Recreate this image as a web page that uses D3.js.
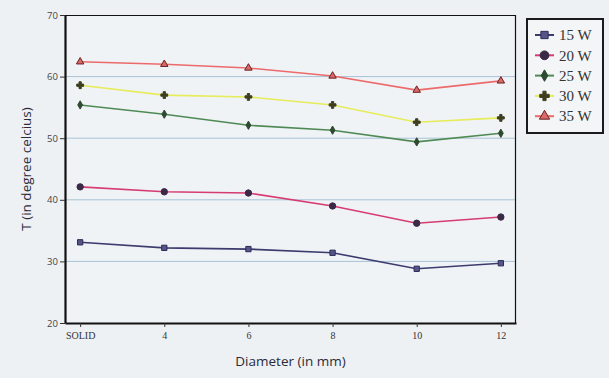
<!DOCTYPE html>
<html>
<head>
<meta charset="utf-8">
<script src="https://cdn.jsdelivr.net/npm/d3@7"></script>
<style>
  body { margin: 0; background: #eef1f4; }
  svg { display: block; }
</style>
</head>
<body>
<div id="chart"></div>
<script>
// Chart data
var diameters = ["SOLID", "4", "6", "8", "10", "12"];
var seriesNames = ["15 W", "20 W", "25 W", "30 W", "35 W"];
var w15 = [33.1, 32.2, 32.0, 31.4, 28.8, 29.7];
var w20 = [42.1, 41.3, 41.1, 39.0, 36.2, 37.2];
var w25 = [55.4, 53.9, 52.1, 51.3, 49.4, 50.8];
var w30 = [58.6, 57.0, 56.7, 55.4, 52.6, 53.3];
var w35 = [62.4, 62.0, 61.4, 60.1, 57.8, 59.3];
var yTicks = [20, 30, 40, 50, 60, 70];

var svgWidth = 609;
var svgHeight = 378;

var margin = { top: 15, right: 93, bottom: 55, left: 65 };
var width = svgWidth - margin.left - margin.right;
var height = svgHeight - margin.top - margin.bottom;

var svg = d3.select("#chart")
  .append("svg")
  .attr("width", svgWidth)
  .attr("height", svgHeight);

svg.append("rect")
  .attr("width", svgWidth)
  .attr("height", svgHeight)
  .attr("fill", "#eef1f4");

var chartGroup = svg.append("g")
  .attr("transform", `translate(${margin.left}, ${margin.top})`);

// series styling
var styles = [
  { line: "#3b3b6e", marker: "#2b2b55", fill: "#55558a", shape: d3.symbolSquare, size: 28 },
  { line: "#d63c72", marker: "#3a2a48", fill: "#3a2a48", shape: d3.symbolCircle, size: 32 },
  { line: "#4f8a55", marker: "#2e4a30", fill: "#2e4a30", shape: d3.symbolDiamond, size: 20 },
  { line: "#e6ec5a", marker: "#3e3e1e", fill: "#3e3e1e", shape: d3.symbolCross, size: 26 },
  { line: "#ec6a6a", marker: "#6a2020", fill: "#d86a6a", shape: d3.symbolTriangle, size: 24 }
];
var seriesValues = [w15, w20, w25, w30, w35];

// scales
var xScale = d3.scalePoint()
  .domain(diameters)
  .range([0, width])
  .padding(0.18);

var yScale = d3.scaleLinear()
  .domain([20, 70])
  .range([height, 0]);

// plot background
chartGroup.append("rect")
  .attr("width", width)
  .attr("height", height)
  .attr("fill", "#f0f3f6");

// gridlines
chartGroup.append("g")
  .selectAll("line")
  .data(yTicks.filter(d => d > 20 && d < 70))
  .enter()
  .append("line")
  .attr("x1", 0)
  .attr("x2", width)
  .attr("y1", d => yScale(d))
  .attr("y2", d => yScale(d))
  .attr("stroke", "#a8c2d6")
  .attr("stroke-width", 1);

// top and right border
chartGroup.append("path")
  .attr("d", `M0,0.5H${width - 0.5}V${height}`)
  .attr("fill", "none")
  .attr("stroke", "#111")
  .attr("stroke-width", 1.2);

// axes
var bottomAxis = d3.axisBottom(xScale).tickSizeInner(4).tickSizeOuter(0);
var leftAxis = d3.axisLeft(yScale).tickValues(yTicks).tickSizeInner(5).tickSizeOuter(0);

var xAxis = chartGroup.append("g")
  .attr("transform", `translate(0, ${height})`)
  .call(bottomAxis);

var yAxis = chartGroup.append("g")
  .call(leftAxis);

[xAxis, yAxis].forEach(ax => {
  ax.select(".domain").attr("stroke", "#111").attr("stroke-width", 2.2);
  ax.selectAll(".tick line").attr("stroke", "#333");
  ax.selectAll("text")
    .attr("font-size", 10)
    .attr("fill", "#333");
});
xAxis.selectAll("text")
  .attr("font-family", "Liberation Serif, serif")
  .attr("dy", "0.9em");
yAxis.selectAll("text")
  .attr("font-family", "Open Sans, sans-serif")
  .attr("font-size", 9.5)
  .attr("fill", "#444")
  .attr("dx", "0.1em");

// lines and markers
var line = d3.line()
  .x((d, i) => xScale(diameters[i]))
  .y(d => yScale(d));

seriesValues.forEach((vals, s) => {
  var st = styles[s];
  chartGroup.append("path")
    .datum(vals)
    .attr("d", line)
    .attr("fill", "none")
    .attr("stroke", st.line)
    .attr("stroke-width", 1.6);

  chartGroup.selectAll(".m" + s)
    .data(vals)
    .enter()
    .append("path")
    .attr("class", "m" + s)
    .attr("transform", (d, i) => `translate(${xScale(diameters[i])}, ${yScale(d)})`)
    .attr("d", d3.symbol().type(st.shape).size(st.size))
    .attr("fill", st.fill)
    .attr("stroke", st.marker)
    .attr("stroke-width", 1);
});

// axis labels
svg.append("text")
  .attr("transform", "rotate(-90)")
  .attr("x", -(margin.top + height / 2))
  .attr("y", 31)
  .attr("text-anchor", "middle")
  .attr("font-family", "Open Sans, sans-serif")
  .attr("font-size", 13.5)
  .attr("fill", "#2a2a3a")
  .text("T (in degree celcius)");

svg.append("text")
  .attr("x", margin.left + width / 2)
  .attr("y", 366)
  .attr("text-anchor", "middle")
  .attr("font-family", "Open Sans, sans-serif")
  .attr("font-size", 13.5)
  .attr("fill", "#2a2a3a")
  .text("Diameter (in mm)");

// legend
var legend = svg.append("g")
  .attr("transform", "translate(527, 19)");

legend.append("rect")
  .attr("width", 76)
  .attr("height", 114)
  .attr("fill", "#f3f5f7")
  .attr("stroke", "#1a1a1a")
  .attr("stroke-width", 2);

var items = legend.selectAll(".item")
  .data(seriesNames)
  .enter()
  .append("g")
  .attr("transform", (d, i) => `translate(0, ${16 + i * 20.3})`);

items.append("line")
  .attr("x1", 8)
  .attr("x2", 27)
  .attr("stroke", (d, i) => styles[i].line)
  .attr("stroke-width", 2);

items.append("path")
  .attr("transform", "translate(17.5, 0)")
  .attr("d", (d, i) => d3.symbol().type(styles[i].shape).size(styles[i].size * 1.9)())
  .attr("fill", (d, i) => styles[i].fill)
  .attr("stroke", (d, i) => styles[i].marker);

items.append("text")
  .attr("x", 32)
  .attr("dy", "0.35em")
  .attr("font-family", "Liberation Serif, serif")
  .attr("font-size", 15)
  .attr("fill", "#333")
  .text(d => d);
</script>
</body>
</html>
